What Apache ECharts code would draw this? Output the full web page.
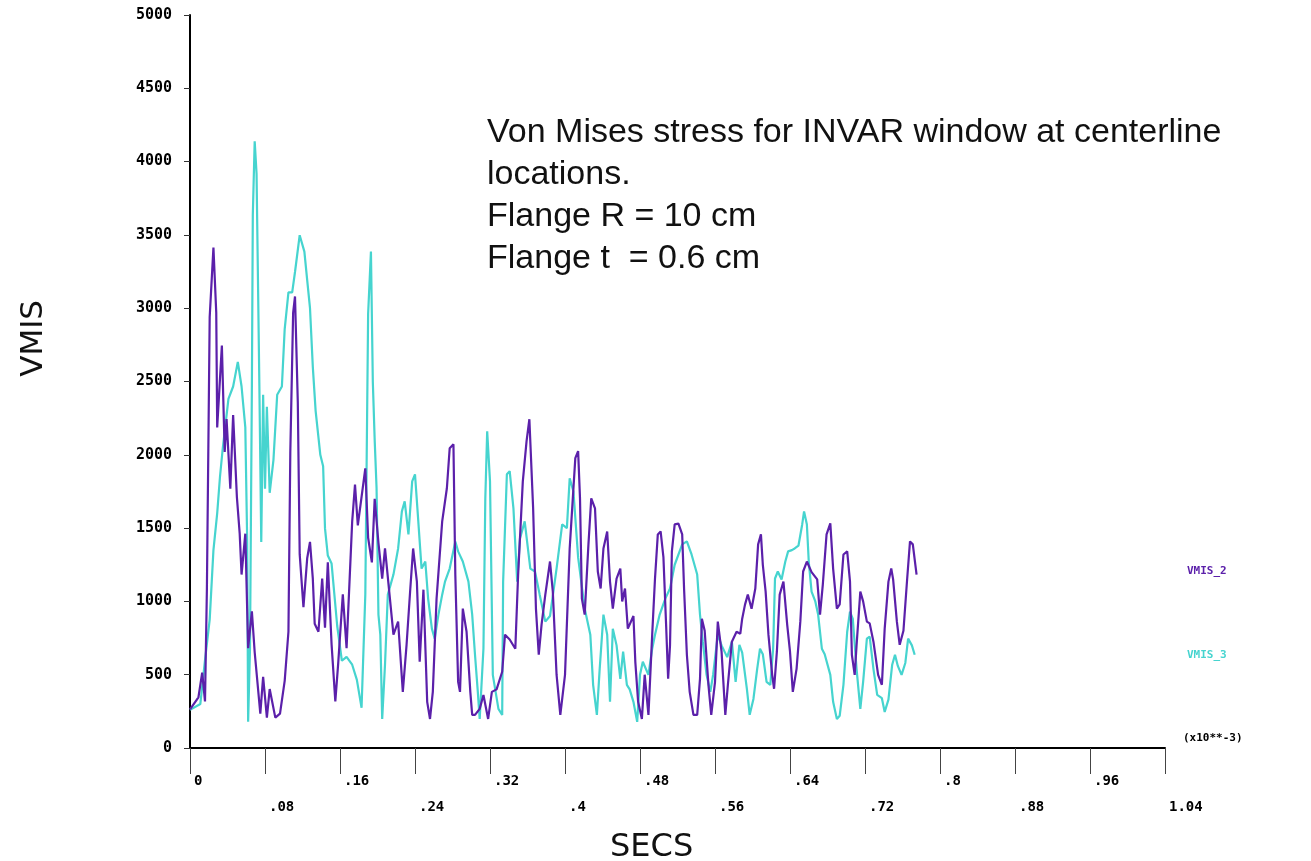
<!DOCTYPE html>
<html>
<head>
<meta charset="utf-8">
<script src="https://cdn.jsdelivr.net/npm/echarts@6/dist/echarts.min.js"></script>
<style>
html,body{margin:0;padding:0;background:#fff;}
#chart{width:1311px;height:861px;}
</style>
</head>
<body>
<div id="chart"></div>
<script>
// time in units of 1e-3 s, stress values
const purpleT = [0,.009,.013,.016,.018,.021,.025,.028,.029,.034,.037,.039,.043,.046,.050,.053,.055,.059,.062,.066,.069,.075,.078,.082,.085,.091,.096,.101,.105,.107,.110,.112,.115,.117,.121,.125,.128,.131,.133,.137,.141,.144,.147,.151,.155,.158,.163,.167,.173,.176,.179,.187,.190,.194,.197,.201,.205,.208,.217,.222,.227,.231,.235,.238,.242,.245,.249,.253,.256,.259,.263,.269,.274,.277,.281,.283,.286,.288,.291,.295,.299,.301,.304,.309,.313,.318,.322,.327,.333,.336,.341,.347,.350,.355,.359,.362,.366,.369,.372,.375,.379,.384,.387,.391,.395,.400,.405,.411,.414,.416,.418,.421,.425,.428,.432,.435,.438,.441,.445,.448,.451,.455,.459,.461,.464,.467,.473,.475,.478,.482,.485,.489,.493,.496,.499,.502,.505,.508,.510,.512,.514,.517,.521,.525,.527,.530,.533,.537,.541,.544,.546,.549,.553,.556,.560,.563,.567,.571,.574,.578,.583,.587,.589,.592,.595,.599,.603,.606,.609,.611,.614,.617,.621,.623,.626,.629,.633,.637,.640,.643,.647,.651,.654,.658,.663,.669,.672,.675,.679,.683,.686,.690,.693,.697,.701,.704,.706,.709,.711,.715,.718,.722,.725,.729,.734,.738,.741,.745,.748,.750,.754,.757,.761,.765,.768,.771,.775];
const purpleV = [263,346,514,318,1076,2940,3414,2968,2187,2745,2020,2243,1769,2271,1713,1462,1183,1462,681,932,653,235,486,207,402,207,235,458,793,2020,2968,3080,2354,1322,960,1294,1406,1155,848,793,1155,820,1266,709,318,570,1048,681,1546,1797,1518,1908,1434,1266,1700,1400,1156,1361,773,862,383,704,1088,1361,1135,588,1080,315,198,383,1019,1546,1772,2045,2072,1183,451,383,951,793,383,226,226,267,362,198,383,400,520,773,740,677,1183,1819,2093,2243,1635,951,636,841,1046,1272,1067,500,226,499,1361,1977,2025,1703,1019,910,1389,1703,1635,1204,1088,1361,1477,1135,951,1156,1224,1000,1088,814,900,588,315,198,500,226,773,1156,1457,1477,1300,814,472,700,1341,1525,1530,1457,1088,636,383,226,226,472,882,800,431,226,450,862,657,226,450,725,793,780,882,978,1046,950,1088,1389,1457,1250,1067,773,499,404,657,1046,1135,841,657,383,540,862,1204,1272,1200,1150,910,1115,1457,1532,1224,951,980,1320,1341,1135,636,499,700,1067,1000,862,850,725,499,431,814,1135,1224,1150,862,704,800,1156,1409,1389,1183];

const cyanT = [0,.011,.016,.021,.025,.029,.032,.035,.041,.046,.051,.055,.059,.061,.062,.064,.066,.067,.069,.071,.074,.076,.078,.080,.082,.085,.089,.093,.098,.101,.105,.109,.112,.117,.122,.125,.128,.131,.134,.139,.142,.144,.147,.151,.157,.162,.167,.173,.178,.183,.187,.190,.193,.195,.197,.199,.201,.203,.205,.208,.211,.217,.222,.226,.229,.233,.237,.240,.243,.247,.251,.254,.258,.261,.265,.269,.272,.277,.283,.286,.291,.297,.301,.304,.307,.309,.313,.315,.317,.320,.323,.329,.333,.334,.338,.341,.345,.349,.352,.357,.363,.368,.373,.379,.384,.391,.397,.402,.405,.409,.414,.421,.427,.430,.434,.437,.441,.445,.448,.451,.455,.459,.462,.466,.469,.473,.477,.480,.483,.489,.493,.496,.501,.507,.512,.517,.525,.530,.535,.541,.544,.547,.551,.555,.558,.563,.567,.573,.578,.582,.586,.589,.594,.597,.601,.605,.608,.611,.615,.619,.622,.624,.627,.631,.635,.638,.642,.645,.649,.653,.655,.658,.660,.663,.667,.670,.674,.677,.683,.686,.690,.693,.697,.701,.704,.707,.711,.715,.718,.722,.725,.729,.733,.738,.741,.745,.749,.752,.755,.759,.763,.766,.770,.773];
const cyanV = [260,300,600,876,1350,1601,1852,2048,2382,2466,2634,2466,2187,1406,179,681,2466,3637,4139,3916,2466,1406,2410,1769,2327,1741,1964,2410,2466,2857,3108,3108,3247,3498,3386,3191,3000,2600,2300,2000,1922,1498,1313,1259,834,595,622,568,465,274,1047,2962,3386,2500,2100,1772,910,773,198,568,1046,1183,1361,1614,1683,1457,1819,1867,1594,1224,1272,1019,814,746,910,1046,1135,1224,1409,1341,1272,1135,910,636,383,198,677,1703,2161,1819,499,267,226,1135,1867,1888,1635,1135,1430,1546,1224,1204,1046,862,900,1224,1525,1500,1840,1750,1300,951,773,431,226,540,910,773,315,814,700,472,657,431,400,315,178,499,588,499,677,773,910,1019,1088,1250,1389,1409,1320,1183,910,725,499,383,500,773,700,620,725,451,704,650,404,226,335,540,677,640,451,430,677,1156,1204,1150,1272,1341,1350,1361,1380,1525,1614,1525,1272,1067,1000,910,677,640,499,315,198,220,431,793,930,880,540,267,451,746,760,540,362,340,246,330,568,636,560,499,580,746,700,636];

const seriesNames = ['VMIS_2', 'VMIS_3'];
const seriesColors = ['#5b20aa', '#46d4cf'];
const xTickStep = 0.08;
const yTickStep = 500;

function fmtX(v) {
  let s = (Math.round(v * 100) / 100).toString();
  if (s.startsWith('0.')) s = s.slice(1);
  return s;
}

const chart = echarts.init(document.getElementById('chart'), null, {renderer: 'canvas'});
const labelFont = 'DejaVu Sans Mono';
chart.setOption({
  animation: false,
  backgroundColor: '#ffffff',
  grid: {left: 190, right: 146, top: 15, bottom: 113, containLabel: false},
  xAxis: {
    type: 'value', min: 0, max: 1.04, interval: xTickStep,
    axisLine: {show: true, lineStyle: {color: '#000', width: 2}},
    axisTick: {show: true, inside: false, length: 26, lineStyle: {color: '#444', width: 1}},
    splitLine: {show: false},
    axisLabel: {
      show: true, margin: 20, align: 'left', padding: [0, 0, 0, 4],
      color: '#000', fontFamily: labelFont, fontWeight: 'bold', fontSize: 14, lineHeight: 26,
      hideOverlap: false,
      formatter: function (v, i) { const s = fmtX(v); return (i % 2 === 1) ? '\n' + s : s; }
    }
  },
  yAxis: {
    type: 'value', min: 0, max: 5000, interval: yTickStep,
    axisLine: {show: true, lineStyle: {color: '#000', width: 2}},
    axisTick: {show: true, inside: false, length: 6, lineStyle: {color: '#333', width: 1}},
    splitLine: {show: false},
    axisLabel: {margin: 18, color: '#000', fontFamily: labelFont, fontWeight: 'bold', fontSize: 15,
      formatter: function (v) { return String(v); }}
  },
  series: [
    {
      name: seriesNames[0], type: 'line', showSymbol: false, symbol: 'none', z: 3,
      lineStyle: {color: seriesColors[0], width: 2.2},
      data: purpleT.map((t, i) => [t, purpleV[i]])
    },
    {
      name: seriesNames[1], type: 'line', showSymbol: false, symbol: 'none', z: 2,
      lineStyle: {color: seriesColors[1], width: 2.2},
      data: cyanT.map((t, i) => [t, cyanV[i]])
    }
  ],
  graphic: [
    {type: 'text', left: 487, top: 112, style: {
      text: 'Von Mises stress for INVAR window at centerline\nlocations.\nFlange R = 10 cm\nFlange t  = 0.6 cm',
      font: '34px "Liberation Sans", Arial, sans-serif', fill: '#111', lineHeight: 42}},
    {type: 'text', left: 18, top: 300, rotation: Math.PI / 2, style: {
      text: 'VMIS', font: '31px "DejaVu Sans", sans-serif', fill: '#111'}},
    {type: 'text', left: 610, top: 832, style: {
      text: 'SECS', font: '32px "DejaVu Sans", sans-serif', fill: '#111'}},
    {type: 'text', left: 1183, top: 733, style: {
      text: '(x10**-3)', font: 'bold 11px "DejaVu Sans Mono", monospace', fill: '#000'}},
    {type: 'text', left: 1187, top: 566, style: {
      text: seriesNames[0], font: 'bold 11px "DejaVu Sans Mono", monospace', fill: seriesColors[0]}},
    {type: 'text', left: 1187, top: 650, style: {
      text: seriesNames[1], font: 'bold 11px "DejaVu Sans Mono", monospace', fill: seriesColors[1]}}
  ]
});
</script>
</body>
</html>
